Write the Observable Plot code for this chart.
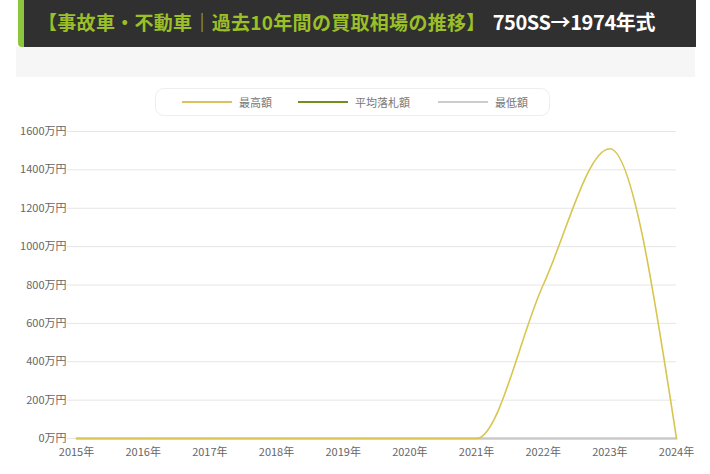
<!DOCTYPE html>
<html>
<head>
<meta charset="utf-8">
<script src="https://cdn.jsdelivr.net/npm/d3@7"></script>
<script src="https://cdn.jsdelivr.net/npm/@observablehq/plot@0.6"></script>
<style>
  html, body { margin: 0; padding: 0; background: #fff; }
  body { width: 710px; height: 474px; position: relative; overflow: hidden;
         font-family: "Noto Sans CJK JP", "Noto Sans", sans-serif; }
  #header { position: absolute; left: 18px; top: 0; width: 672px; height: 47px;
            background: #303030; border-left: 6px solid #8cc63e; border-bottom-left-radius: 4px; }
  #title { position: absolute; left: 38px; top: 9px; font-size: 19px; font-weight: bold;
           white-space: nowrap; line-height: 26px; }
  #title .g { color: #9bbf27; letter-spacing: 0.3px; }
  #title .w { color: #ffffff; margin-left: 7px; font-size: 20px; letter-spacing: -0.4px; }
  #band { position: absolute; left: 16px; top: 47px; width: 679px; height: 30px; background: #f6f6f6; }
  #legend { position: absolute; left: 155px; top: 88px; width: 393px; height: 26px;
            border: 1px solid #eeeeee; border-radius: 9px; background: #fff; }
  .item { position: absolute; top: 0; height: 26px; display: flex; align-items: center;
          font-size: 11px; color: #777; }
  .sw { display: inline-block; width: 50px; height: 0; border-top: 2px solid; margin-right: 7px; }
  #chart { position: absolute; left: 0; top: 120px; }
</style>
</head>
<body>
<div id="header"></div>
<div id="title"><span class="g">【事故車・不動車｜過去10年間の買取相場の推移】</span><span class="w">750SS→1974年式</span></div>
<div id="band"></div>
<div id="legend"></div>
<div id="chart"></div>
<script>
const years = [2015, 2016, 2017, 2018, 2019, 2020, 2021, 2022, 2023, 2024];
const maxPrice = [0, 0, 0, 0, 0, 0, 0, 800, 1510, 0];
const avgPrice = [0, 0, 0, 0, 0, 0, 0, 0, 0, 0];
const minPrice = [0, 0, 0, 0, 0, 0, 0, 0, 0, 0];
const seriesNames = ["最高額", "平均落札額", "最低額"];
const seriesColors = ["#dcc25e", "#6f8f1e", "#cccccc"];
const yTicks = [0, 200, 400, 600, 800, 1000, 1200, 1400, 1600];

// legend
const legendOffsets = [26, 142, 282];
const legend = document.getElementById("legend");
seriesNames.forEach((n, i) => {
  const d = document.createElement("div");
  d.className = "item";
  d.style.left = legendOffsets[i] + "px";
  d.innerHTML = `<span class="sw" style="border-color:${seriesColors[i]}"></span><span>${n}</span>`;
  legend.appendChild(d);
});

const rows = [];
[maxPrice, avgPrice, minPrice].forEach((arr, s) => {
  arr.forEach((v, i) => rows.push({year: years[i], value: v, series: seriesNames[s]}));
});

const chart = Plot.plot({
  width: 710,
  height: 354,
  marginLeft: 76,
  marginRight: 34,
  marginTop: 11,
  marginBottom: 36,
  style: {fontFamily: "'Noto Sans CJK JP', 'Noto Sans', sans-serif", fontSize: "11px", background: "transparent"},
  x: {domain: [2015, 2024]},
  y: {domain: [0, 1600]},
  marks: [
    Plot.gridY(yTicks, {stroke: "#e6e6e6", strokeOpacity: 1}),
    Plot.axisY(yTicks, {tickSize: 9, tickPadding: 1, stroke: "#e6e6e6", fill: "#666", strokeOpacity: 1,
      tickFormat: d => d + "万円", label: null, fontSize: 11}),
    Plot.axisX(years, {tickSize: 0, tickPadding: 10, fill: "#666",
      tickFormat: d => d + "年", label: null, fontSize: 11}),
    Plot.line(rows.filter(r => r.series === seriesNames[1]), {x: "year", y: "value", stroke: seriesColors[1], strokeWidth: 1.5, curve: "monotone-x"}),
    Plot.line(rows.filter(r => r.series === seriesNames[2]), {x: "year", y: "value", stroke: "#c8c8c8", strokeWidth: 1.5, curve: "monotone-x"}),
    Plot.line(rows.filter(r => r.series === seriesNames[0]), {x: "year", y: "value", stroke: "#d8c550", strokeWidth: 1.6, curve: "monotone-x"})
  ]
});
document.getElementById("chart").appendChild(chart);
</script>
</body>
</html>
